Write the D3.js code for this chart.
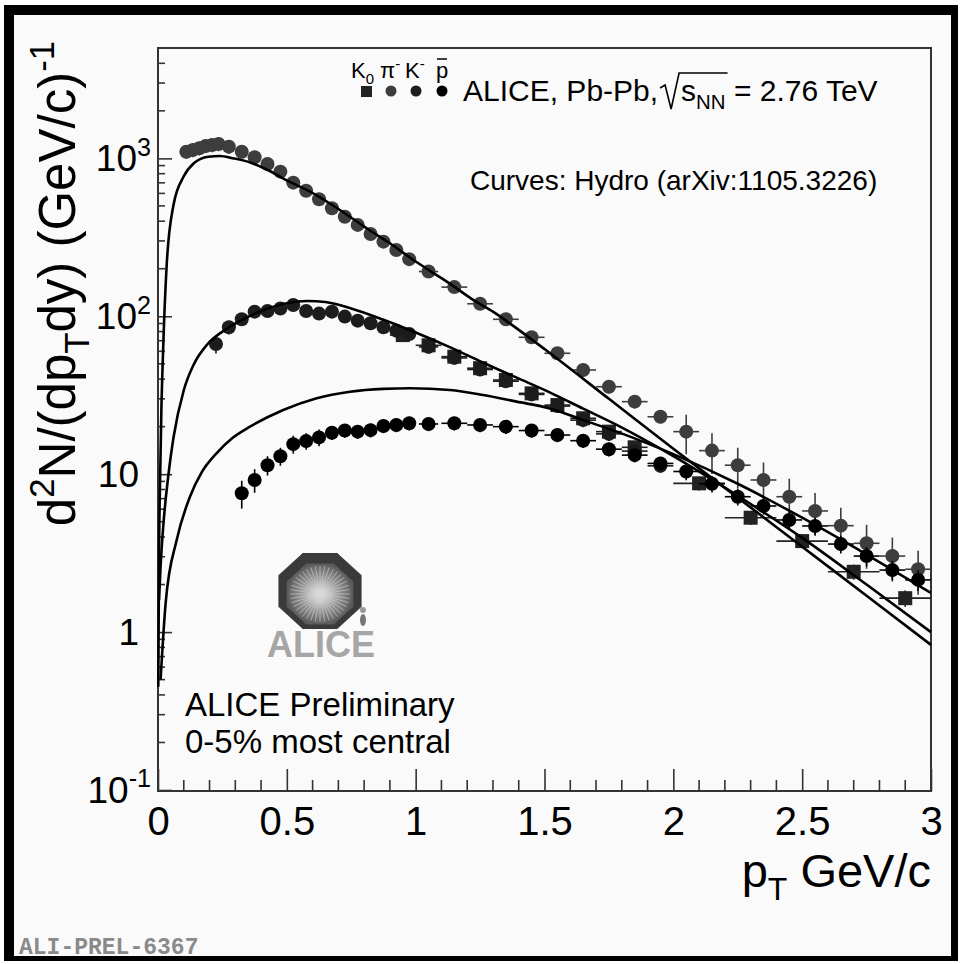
<!DOCTYPE html>
<html>
<head>
<meta charset="utf-8">
<script src="https://d3js.org/d3.v7.min.js"></script>
<style>
body{margin:0;background:#fff;}
svg{display:block;font-family:"Liberation Sans",Arial,Helvetica,sans-serif;}
</style>
</head>
<body>
<svg id="plot" width="963" height="964"></svg>
<script>
// spectra, 0-5% Pb-Pb
var pionPt = [0.11,0.135,0.16,0.185,0.21,0.235,0.275,0.325,0.375,0.425,0.475,0.525,0.575,0.625,0.675,0.725,0.775,0.825,0.875,0.925,0.975,1.05,1.15,1.25,1.35,1.45,1.55,1.65,1.75,1.85,1.95,2.05,2.15,2.25,2.35,2.45,2.55,2.65,2.75,2.85,2.95];
var pionY = [1102,1130,1159,1199,1216,1234,1186,1102,1016,921,824,702,624,551,483,427,379,332,297,263,230,192,153,120,95.7,73.6,58.3,45.7,35.8,28.8,23.1,18.6,14.1,11.4,9.19,7.2,5.85,4.72,3.65,3.03,2.5];
var pionErr = [0.1,0.1,0.1,0.1,0.1,0.1,0.1,0.08,0.08,0.08,0.08,0.08,0.08,0.08,0.08,0.08,0.08,0.08,0.08,0.08,0.08,0.08,0.08,0.08,0.08,0.08,0.08,0.09,0.09,0.09,0.09,0.28,0.29,0.29,0.29,0.3,0.3,0.3,0.31,0.31,0.31];

var kaonPt = [0.225,0.275,0.325,0.375,0.425,0.475,0.525,0.575,0.625,0.675,0.725,0.775,0.825,0.875,0.925,0.975,1.05,1.15,1.25,1.35,1.45,1.55,1.65,1.75,1.85,1.95];
var kaonY = [66.8,85.2,95.7,107,108,112,118,108,104,107,99.5,93.8,90.3,85.2,81.1,77.3,64,54.5,46,38.8,32,27,22,18,14,11.3];
var kaonErr = [0.13,0.1,0.09,0.09,0.08,0.08,0.08,0.08,0.08,0.08,0.08,0.08,0.08,0.08,0.08,0.08,0.08,0.08,0.08,0.08,0.09,0.09,0.1,0.1,0.1,0.1];

var k0Pt = [0.95,1.05,1.15,1.25,1.35,1.45,1.55,1.65,1.75,1.85,2.1,2.3,2.5,2.7,2.9];
var k0Y = [76,65.5,55.5,46.9,39.5,32.5,27.4,22.6,18.6,14.8,8.75,5.3,3.77,2.41,1.64];
var k0Err = [0.07,0.07,0.07,0.07,0.07,0.08,0.08,0.08,0.09,0.09,0.1,0.1,0.1,0.11,0.12];

var protonPt = [0.325,0.375,0.425,0.475,0.525,0.575,0.625,0.675,0.725,0.775,0.825,0.875,0.925,0.975,1.05,1.15,1.25,1.35,1.45,1.55,1.65,1.75,1.85,1.95,2.05,2.15,2.25,2.35,2.45,2.55,2.65,2.75,2.85,2.95];
var protonY = [7.57,9.19,11.4,13.0,15.5,16.2,17.1,18.3,18.9,18.6,19.0,20.2,20.5,21.0,20.8,21.0,20.5,20.0,18.9,17.7,16.3,14.4,13.2,11.7,10.4,8.7,7.2,6.29,5.13,4.7,3.61,3.03,2.47,2.14];
var protonErr = [0.2,0.17,0.14,0.13,0.13,0.12,0.12,0.1,0.1,0.1,0.1,0.1,0.1,0.1,0.1,0.1,0.1,0.1,0.1,0.1,0.1,0.1,0.1,0.1,0.12,0.12,0.12,0.12,0.13,0.13,0.13,0.14,0.14,0.15];

// hydro curves (arXiv:1105.3226)
var piCurvePt = [0.0012,0.004,0.008,0.013,0.02,0.034,0.06,0.1,0.14,0.195,0.24,0.29,0.36,0.42,0.51,0.59,0.67,0.745,0.82,0.9,0.98,1.06,1.14,1.22,1.3,1.4,1.5,1.75,2.0,2.25,2.5,2.75,3.0];
var piCurveY = [0.45,3,9,25,62,215,505,770,935,1025,1036,1002,939,853,712,615,514,427,352,290,234,192,158,128,107,82,62,30,14.5,7.1,3.47,1.7,0.83];
var kCurvePt = [0.004,0.01,0.02,0.04,0.06,0.1,0.14,0.19,0.25,0.3,0.4,0.5,0.58,0.65,0.75,0.875,1.0,1.13,1.26,1.39,1.52,1.65,1.78,2.0,2.25,2.5,2.75,3.0];
var kCurveY = [1.6,2.6,4.6,9.8,17,34,50,66,80,90,108,121,125,123,112,95,79,64,51,41,33,26,20.5,13.0,7.3,3.95,2.0,1.0];
var pCurvePt = [0.01,0.03,0.0725,0.124,0.17,0.228,0.29,0.357,0.486,0.616,0.745,0.874,0.978,1.133,1.262,1.392,1.521,1.65,1.78,2.0,2.25,2.5,2.75,3.0];
var pCurveY = [0.5,1.55,3.83,7.2,10.3,13.6,17,20,25.5,30.3,33.3,34.7,35,34.1,31.7,28.8,26.1,22,18.6,13.4,8.7,5.3,3.1,1.77];

var xTicks = [0,0.5,1,1.5,2,2.5,3];
var yTicks = [0.1,1,10,100,1000];
var yTickLabels = [["10","-1"],["1",""],["10",""],["10","2"],["10","3"]];

var svg = d3.select("#plot");

// page frame
svg.append("rect").attr("x",4).attr("y",5).attr("width",954).attr("height",956).attr("fill","#000");
svg.append("rect").attr("x",14).attr("y",15).attr("width",937).attr("height",941).attr("fill","#fafafa");

var x = d3.scaleLinear().domain([0,3]).range([158,931]);
var y = d3.scaleLog().domain([0.1,5000]).range([790,48]);

// text with super/subscripts
function rich(g, tx, ty, parts, size, anchor){
	var t = g.append("text").attr("x",tx).attr("y",ty).attr("font-size",size).attr("text-anchor",anchor||"start");
	var shift = 0;
	parts.forEach(function(p){
		var s = p[1]==="sup" ? -0.42*size : (p[1]==="sub" ? 0.28*size : 0);
		t.append("tspan").attr("dy",s-shift).attr("font-size",p[1]==="n" ? size : size*0.68).text(p[0]);
		shift = s;
	});
	return t;
}

// axes
var xAxis = svg.append("g").attr("transform","translate(0,791)")
	.call(d3.axisBottom(x).tickValues(xTicks).tickFormat(d3.format("~g")).tickSizeInner(-22).tickSizeOuter(0).tickPadding(16));
xAxis.select(".domain").remove();
xAxis.selectAll(".tick line").attr("stroke","#333").attr("stroke-width",1.6);
xAxis.selectAll(".tick text").attr("font-size",40).attr("fill","#000").attr("font-family","Liberation Sans, Arial, sans-serif");

var xMinor = x.ticks(30).filter(function(d){ return Math.abs(d*2-Math.round(d*2))>1e-6; });
svg.append("g").selectAll("line").data(xMinor).join("line")
	.attr("x1",function(d){return x(d);}).attr("x2",function(d){return x(d);})
	.attr("y1",791).attr("y2",780).attr("stroke","#333").attr("stroke-width",1.6);

var yAxis = svg.append("g").attr("transform","translate(158,0)")
	.call(d3.axisRight(y).tickValues(yTicks).tickFormat("").tickSizeInner(14).tickSizeOuter(0));
yAxis.select(".domain").remove();
yAxis.selectAll(".tick line").attr("stroke","#333").attr("stroke-width",1.6);

var yMinor = y.ticks().filter(function(d){ return yTicks.indexOf(d)<0; });
svg.append("g").selectAll("line").data(yMinor).join("line")
	.attr("x1",158).attr("x2",165)
	.attr("y1",function(d){return y(d);}).attr("y2",function(d){return y(d);})
	.attr("stroke","#333").attr("stroke-width",1.6);

var yLab = svg.append("g");
yTicks.forEach(function(v,i){
	var lab = yTickLabels[i];
	var parts = [[lab[0],"n"]];
	if(lab[1]) parts.push([lab[1],"sup"]);
	rich(yLab, lab[1] ? 151 : 139, y(v)+13, parts, 37, "end");
});

// frame
svg.append("rect").attr("x",158).attr("y",48).attr("width",773).attr("height",743)
	.attr("fill","none").attr("stroke","#333").attr("stroke-width",2);

// axis titles
var yt = svg.append("g").attr("transform","translate(75,41) rotate(-90)");
rich(yt, 0, 0, [["d","n"],["2","sup"],["N/(dp","n"],["T","sub"],["dy)  (GeV/c)","n"],["-1","sup"]], 51, "end");
rich(svg, 931, 887, [["p","n"],["T","sub"],[" GeV/c","n"]], 47, "end");

// data
var plotArea = svg.append("g");

function halfBin(pts,i){
	var g1 = i>0 ? pts[i]-pts[i-1] : Infinity;
	var g2 = i<pts.length-1 ? pts[i+1]-pts[i] : Infinity;
	return Math.min(g1,g2)/2;
}

function drawSeries(pts, vals, errs, color, shape){
	var g = plotArea.append("g");
	var rows = pts.map(function(p,i){ return {pt:p, v:vals[i], e:errs[i], hw:halfBin(pts,i)}; });
	g.selectAll("line.ey").data(rows).join("line").attr("class","ey")
		.attr("x1",function(d){return x(d.pt);}).attr("x2",function(d){return x(d.pt);})
		.attr("y1",function(d){return y(d.v*(1+d.e));}).attr("y2",function(d){return y(d.v*(1-d.e));})
		.attr("stroke",color).attr("stroke-width",1.6);
	g.selectAll("line.ex").data(rows).join("line").attr("class","ex")
		.attr("x1",function(d){return x(d.pt-d.hw);}).attr("x2",function(d){return x(d.pt+d.hw);})
		.attr("y1",function(d){return y(d.v);}).attr("y2",function(d){return y(d.v);})
		.attr("stroke",color).attr("stroke-width",1.6);
	if(shape==="square"){
		g.selectAll("rect").data(rows).join("rect")
			.attr("x",function(d){return x(d.pt)-7;}).attr("y",function(d){return y(d.v)-7;})
			.attr("width",14).attr("height",14).attr("fill",color);
	} else {
		g.selectAll("circle").data(rows).join("circle")
			.attr("cx",function(d){return x(d.pt);}).attr("cy",function(d){return y(d.v);})
			.attr("r",7).attr("fill",color);
	}
}

drawSeries(pionPt, pionY, pionErr, "#3d3d3d", "circle");
drawSeries(k0Pt, k0Y, k0Err, "#222", "square");
drawSeries(kaonPt, kaonY, kaonErr, "#1c1c1c", "circle");
drawSeries(protonPt, protonY, protonErr, "#000", "circle");

// hydro curves
var line = d3.line().x(function(d){return x(d[0]);}).y(function(d){return y(d[1]);}).curve(d3.curveMonotoneX);
[[piCurvePt,piCurveY],[kCurvePt,kCurveY],[pCurvePt,pCurveY]].forEach(function(c){
	var pts = c[0].map(function(p,i){ return [p, c[1][i]]; });
	plotArea.append("path").attr("d",line(pts)).attr("fill","none").attr("stroke","#000").attr("stroke-width",2.6);
});

// legend
var leg = svg.append("g");
rich(leg, 351, 78, [["K","n"],["0","sub"]], 22);
rich(leg, 380, 78, [["π","n"],["-","sup"]], 22);
rich(leg, 405, 78, [["K","n"],["-","sup"]], 22);
leg.append("text").attr("x",436).attr("y",78).attr("font-size",22).text("p");
leg.append("line").attr("x1",437).attr("x2",447).attr("y1",59).attr("y2",59).attr("stroke","#000").attr("stroke-width",1.5);
leg.append("rect").attr("x",361).attr("y",86).attr("width",11).attr("height",11).attr("fill","#222");
leg.append("circle").attr("cx",391).attr("cy",91).attr("r",5.5).attr("fill","#3d3d3d");
leg.append("circle").attr("cx",416).attr("cy",91).attr("r",5.5).attr("fill","#1c1c1c");
leg.append("circle").attr("cx",442).attr("cy",91).attr("r",5.5).attr("fill","#000");

var t1 = leg.append("text").attr("x",463).attr("y",101).attr("font-size",30).text("ALICE, Pb-Pb,");
var rx = 463 + t1.node().getComputedTextLength() + 2;
var t2 = rich(leg, rx+21, 101, [["s","n"],["NN","sub"],[" = 2.76 TeV","n"]], 30);
var sLen = t2.node().getSubStringLength(0,3);
leg.append("path")
	.attr("d","M"+rx+",88 L"+(rx+5)+",85 L"+(rx+11)+",109 L"+(rx+19)+",73 L"+(rx+23+sLen)+",73")
	.attr("fill","none").attr("stroke","#000").attr("stroke-width",1.6);

svg.append("text").attr("x",470).attr("y",190).attr("font-size",28).text("Curves: Hydro (arXiv:1105.3226)");
svg.append("text").attr("x",185).attr("y",716).attr("font-size",33).text("ALICE Preliminary");
svg.append("text").attr("x",185).attr("y",753).attr("font-size",33).text("0-5% most central");

// ALICE logo
var logo = svg.append("g").attr("transform","translate(320,591)");
var grad = svg.append("defs").append("radialGradient").attr("id","burst");
grad.append("stop").attr("offset","0%").attr("stop-color","#e8e8e8");
grad.append("stop").attr("offset","100%").attr("stop-color","#5a5a5a");
function octagon(rw,rh){
	var p = [];
	for(var k=0;k<8;k++){
		var a = Math.PI/8 + k*Math.PI/4;
		p.push([rw*Math.cos(a), rh*Math.sin(a)]);
	}
	return p.map(function(q){return q.join(",");}).join(" ");
}
logo.append("polygon").attr("points",octagon(45,41)).attr("fill","#3a3a3a");
logo.append("polygon").attr("points",octagon(36,33)).attr("fill","url(#burst)").attr("transform","translate(0,3)");
var rays = d3.range(0,360,9);
logo.selectAll("line").data(rays).join("line")
	.attr("x1",0).attr("y1",3)
	.attr("x2",function(d){return 30*Math.cos(d*Math.PI/180);})
	.attr("y2",function(d){return 3+28*Math.sin(d*Math.PI/180);})
	.attr("stroke","#d8d8d8").attr("stroke-width",0.7).attr("opacity",0.8);
logo.append("ellipse").attr("cx",43).attr("cy",29).attr("rx",3).attr("ry",6).attr("fill","#777");
logo.append("circle").attr("cx",43).attr("cy",19).attr("r",3).attr("fill","#999");
svg.append("text").attr("x",321).attr("y",657).attr("text-anchor","middle").attr("font-size",36)
	.attr("font-weight","bold").attr("fill","#a6a6a6").text("ALICE");

svg.append("text").attr("x",19).attr("y",954).attr("font-size",23).attr("font-weight","bold")
	.attr("font-family","Liberation Mono, Courier New, monospace").attr("fill","#8a8a8a").text("ALI-PREL-6367");
</script>
</body>
</html>
